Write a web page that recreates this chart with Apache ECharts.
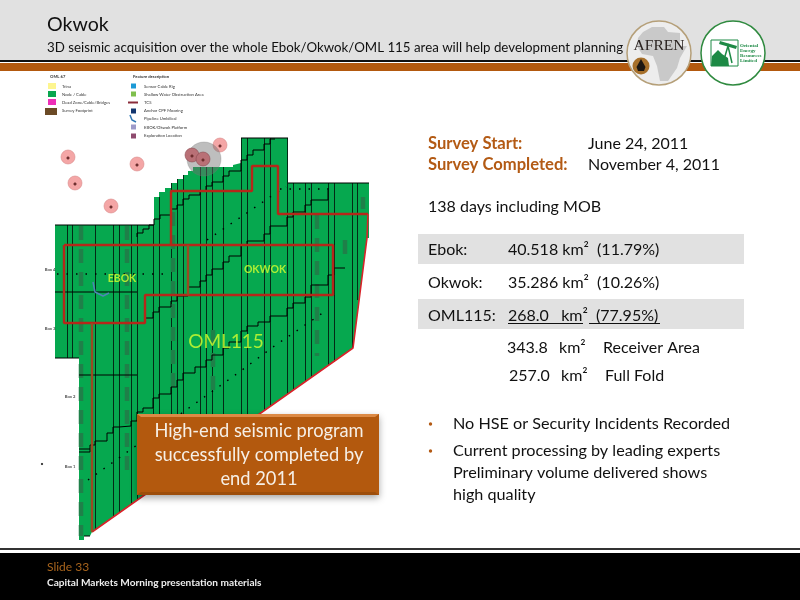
<!DOCTYPE html>
<html>
<head>
<meta charset="utf-8">
<style>html,body{margin:0;padding:0;background:#fff}#main{width:800px;height:600px}</style>
<script src="https://cdn.jsdelivr.net/npm/echarts@6/dist/echarts.min.js"></script>
</head>
<body>
<div id="main"></div>
<script>
// slide text
var titleText = 'Okwok';
var subtitleText = '3D seismic acquisition over the whole Ebok/Okwok/OML 115 area will help development planning';
var surveyLabels = ['Survey Start:', 'Survey Completed:'];
var surveyDates = ['June 24, 2011', 'November 4, 2011'];
var durationText = '138 days including MOB';
var areaNames = ['Ebok:', 'Okwok:', 'OML115:'];
var areaKm = ['40.518', '35.286', '268.0'];
var areaPct = ['11.79', '10.26', '77.95'];
var totalKm = ['343.8', '257.0'];
var totalNames = ['Receiver Area', 'Full Fold'];
var bulletLines = ['No HSE or Security Incidents Recorded', 'Current processing by leading experts', 'Preliminary volume delivered shows', 'high quality'];
var calloutLines = ['High-end seismic program', 'successfully completed by', 'end 2011'];
var legendLeft = ['OML 67', 'Trina', 'Node / Cable', 'Dead Zone/Cable/Bridges', 'Survey Footprint'];
var legendRight = ['Feature description', 'Sensor Cable Rig', 'Shallow Water Obstruction Area', 'TCS', 'Anchor CPF Mooring', 'Pipeline Umbilical', 'EBOK/Okwok Platform', 'Exploration Location'];

// map geometry, in survey map units
var surveyOutline = [[241,138],[288,138],[288,183],[369,183],[369,238],[367,238],[353,348],[92,532],[90,536],[84,536],[84,540],[79,540],[79,358],[55,358],[55,225],[154,225],[154,197],[159,197],[159,192],[165,192],[165,188],[171,188],[171,183],[177,183],[177,179],[183,179],[183,175],[188,175],[188,171],[193,171],[193,167],[233,167],[233,165],[241,163]];
var vertX = [67,72,95,113,119,131,137,153,159,171,177,183,200,206,212,223,241,247,264,270,287,293,305,311,328,334,352,357];
var vertTop = [225,225,225,225,225,225,225,225,197,183,179,175,167,167,167,167,138,138,138,138,138,183,183,183,183,183,183,183];
var vertBottom = [358,358,530,517,513,505,500,489,485,476,472,468,456,452,447,440,427,423,411,406,394,390,382,378,366,362,349,300];
var horizLines = [[[55,225],[154,225]],[[241,138],[288,138]],[[288,183],[369,183]],[[55,292],[137,292]],[[79,375],[137,375]],[[55,358],[79,358]],[[79,449],[90,449]],[[84,536],[90,536]]];
var stairA = [[137,237],[137,233],[143,233],[143,229],[149,229],[149,225],[154,225],[154,219],[160,219],[160,215],[171,215],[171,209],[177,209],[177,205],[183,205],[183,199],[189,199],[189,195],[200,195],[200,191],[206,191],[206,186],[212,186],[212,182],[223,182],[223,176],[229,176],[229,171],[241,171],[241,160],[247,160],[247,155],[253,155],[253,150],[264,150],[264,144],[270,144],[270,139],[275,139]];
var stairB = [[145,322],[145,318],[153,318],[153,312],[159,312],[159,307],[171,307],[171,301],[177,301],[177,296],[188,296],[188,287],[200,287],[200,281],[206,281],[206,275],[212,275],[212,269],[223,269],[223,262],[229,262],[229,256],[241,256],[241,245],[247,245],[247,241],[264,241],[264,234],[270,234],[270,226],[287,226],[287,217],[293,217],[293,212],[305,212],[305,205],[311,205],[311,200],[328,200],[328,188]];
var stairC = [[79,452],[90,452],[90,445],[95,445],[95,441],[107,441],[107,433],[113,433],[113,427],[119,427],[119,426],[131,426],[131,421],[137,421],[137,412],[143,412],[143,408],[153,408],[153,398],[159,398],[159,394],[171,394],[171,387],[177,387],[177,380],[183,380],[183,373],[195,373],[195,367],[206,367],[206,360],[212,360],[212,355],[223,355],[223,348],[229,348],[229,342],[241,342],[241,331],[247,331],[247,326],[258,326],[258,322],[270,322],[270,316],[287,316],[287,308],[293,308],[293,303],[305,303],[305,297],[311,297],[311,285],[328,285],[328,275],[334,275],[334,268],[345,268]];
var dotLines = [[[88,480],[238,373],[273,347],[327,310]],[[207,240],[238,219],[273,195],[286,187]],[[57,274],[170,274]],[[280,189],[328,189]]];
var hatchLines = [[[81,226],[81,536]],[[127,226],[127,478]],[[173,212],[173,392]],[[345,240],[345,256]],[[363,197],[363,209]],[[317,215],[317,356]],[[213,330],[213,398]]];
var boxEbok = [[64,245],[333,245],[333,295],[145,295],[145,323],[64,323],[64,245]];
var boxDivider = [[188,245],[188,295]];
var boxOkwok = [[171,245],[171,191],[252,191],[252,166],[278,166],[278,214],[368,214]];
var boxEdge = [[368,214],[367,238],[353,348],[92,532]];
var boxStem = [[92,323],[92,532]];
var wellPoints = [[68,157],[75,183],[111,206],[137,164],[220,145]];
var wellMarks = [[68,158],[75,184],[111,207],[137,165],[220,146],[192,156],[203,160]];
var platformPoints = [[192,155],[203,159]];
var buoyPoints = [[204,159]];
var fieldNames = ['EBOK', 'OKWOK', 'OML115'];
var fieldPoints = [[122,279],[265,270],[226,342]];
var blockNames = ['Box 4', 'Box 3', 'Box 2', 'Box 1'];
var blockPoints = [[50,270],[50,329],[70,397],[70,467]];
var strayPoints = [[42,464]];
var cablePath = [[93,282],[95,292],[103,296],[109,293]];

var FONT = 'Lato, "Noto Sans", sans-serif';

function txt(str, x, y, size, color, weight, align, family) {
	return {
		type: 'text',
		z: 5,
		style: {
			text: str, x: x, y: y, fill: color || '#111',
			font: (weight || 'normal') + ' ' + size + 'px ' + (family || FONT),
			textAlign: align || 'left', textVerticalAlign: 'middle'
		}
	};
}
function box(x, y, w, h, fill, z) {
	return { type: 'rect', z: z || 1, shape: { x: x, y: y, width: w, height: h }, style: { fill: fill } };
}
function pathLine(pts, color, width, dash) {
	return {
		type: 'line', data: pts, showSymbol: false, silent: true, animation: false, z: 3,
		lineStyle: { color: color, width: width, type: dash || 'solid', cap: 'butt' }
	};
}
function dots(pts, size, fill, stroke, z) {
	return {
		type: 'scatter', data: pts, symbolSize: size, silent: true, animation: false, z: z || 5,
		itemStyle: { color: fill, borderColor: stroke, borderWidth: 0.6, opacity: 1 }
	};
}
function nameLabels(pts, names, size, color, weight) {
	return {
		type: 'scatter', symbolSize: 0, silent: true, animation: false, z: 6,
		data: pts.map(function (p, i) { return { value: p, name: names[i] }; }),
		label: { show: true, position: 'inside', formatter: '{b}', color: color, fontSize: size, fontFamily: FONT, fontWeight: weight || 'normal' }
	};
}

var graphics = [
	box(0, 0, 800, 60, '#e1e1e1'),
	box(0, 60, 800, 2, '#111'),
	box(0, 63, 800, 8, '#b3590e'),
	box(0, 548, 800, 2, '#333'),
	box(0, 553, 800, 47, '#000'),
	txt(titleText, 47, 25, 19.6),
	txt(subtitleText, 47, 48, 13.3, '#111'),
	txt('Slide 33', 47, 567, 12, '#a8641c'),
	txt('Capital Markets Morning presentation materials', 47, 583, 10.1, '#eee', 'bold'),
	box(418, 234, 326, 30, '#e1e1e1'),
	box(418, 299, 326, 30, '#e1e1e1')
];
surveyLabels.forEach(function (s, i) {
	graphics.push(txt(s, 428, 144 + i * 21, 16.6, '#b35a14', 'bold'));
	graphics.push(txt(surveyDates[i], 588, 144 + i * 21, 16));
});
graphics.push(txt(durationText, 428, 207, 16));
areaNames.forEach(function (s, i) {
	var y = 250 + i * 32.7;
	graphics.push(txt(s, 428, y, 16));
	graphics.push(txt(areaKm[i] + (i == 2 ? '   ' : ' ') + 'km\u00b2  (' + areaPct[i] + '%)', 508, y, 16));
});
graphics.push({ type: 'line', z: 5, shape: { x1: 508, y1: 323.5, x2: 583, y2: 323.5 }, style: { stroke: '#111', lineWidth: 1 } });
graphics.push({ type: 'line', z: 5, shape: { x1: 589, y1: 323.5, x2: 660, y2: 323.5 }, style: { stroke: '#111', lineWidth: 1 } });
totalKm.forEach(function (s, i) {
	var y = 348 + i * 27.5;
	graphics.push(txt(s, 507 + i * 2, y, 16));
	graphics.push(txt('km\u00b2', 559 + i * 2, y, 16));
	graphics.push(txt(totalNames[i], 603 + i * 2, y, 16));
});
[424, 451].forEach(function (y) {
	graphics.push({ type: 'circle', z: 5, shape: { cx: 430.5, cy: y, r: 1.7 }, style: { fill: '#b35a14' } });
});
[424, 451, 473, 495].forEach(function (y, i) {
	graphics.push(txt(bulletLines[i], 453, y, 16.2));
});

// callout box, on top of the map
graphics.push({
	type: 'rect', z: 20, shape: { x: 137, y: 414, width: 242, height: 81 },
	style: { fill: '#b3590e', shadowBlur: 7, shadowOffsetY: 3, shadowColor: 'rgba(0,0,0,0.35)' }
});
graphics.push({
	type: 'polygon', z: 21, shape: { points: [[137,414],[379,414],[375,417],[141,417]] },
	style: { fill: '#dc8a45' }
});
graphics.push({
	type: 'polygon', z: 21, shape: { points: [[137,495],[379,495],[375,492],[141,492]] },
	style: { fill: '#9d4e0c' }
});
calloutLines.forEach(function (s, i) {
	var t = txt(s, 259, 431 + i * 24, 18.3, '#f6efe6', 'normal', 'center');
	t.z = 22;
	graphics.push(t);
});

// legend, very small as in the slide
[[52,86,'#fdf58f'],[52,94,'#0aa64f'],[52,102,'#ee2fb8']].forEach(function (s) {
	graphics.push(box(s[0] - 4, s[1] - 3, 8, 6, s[2], 5));
});
graphics.push(box(45, 108, 12, 7, '#6b4a26', 5));
[[133,86,'#1c9ad6'],[133,94,'#7fbf4d'],[133,111,'#12356e'],[133,127,'#9c9ac9'],[133,136,'#8e4a6e']].forEach(function (s) {
	graphics.push(box(s[0] - 2, s[1] - 2.5, 5, 5, s[2], 5));
});
graphics.push(box(128, 101.5, 10, 2, '#8a2c3a', 5));
graphics.push({ type: 'polyline', z: 5, shape: { points: [[130,115],[132,120],[136,122]] }, style: { stroke: '#2f77b5', lineWidth: 1.5, fill: null } });
legendLeft.forEach(function (s, i) {
	var y = i == 0 ? 77 : 78 + i * 8.2;
	graphics.push(txt(s, i == 0 ? 50 : 62, y, 4.2, '#333', i == 0 ? 'bold' : 'normal'));
});
legendRight.forEach(function (s, i) {
	var y = i == 0 ? 77 : 78 + i * 8.2;
	graphics.push(txt(s, i == 0 ? 133 : 144, y, 4.2, '#333', i == 0 ? 'bold' : 'normal'));
});

// AFREN logo
graphics.push({ type: 'circle', z: 6, shape: { cx: 659, cy: 53, r: 32 }, style: { fill: '#ededed', stroke: '#b59f78', lineWidth: 1.5 } });
graphics.push({ type: 'polygon', z: 7, shape: { points: [[643,32],[652,27],[664,27],[668,32],[680,33],[680,46],[687,46],[680,58],[677,68],[668,81],[660,81],[657,66],[653,56],[642,54],[637,46],[638,38]] }, style: { fill: '#c9c9c9' } });
graphics.push(txt('AFREN', 659, 46, 15.5, '#2a2320', 'normal', 'center', '"Liberation Serif", serif'));
graphics[graphics.length - 1].z = 8;
graphics.push({ type: 'circle', z: 8, shape: { cx: 641, cy: 66, r: 8.5 }, style: { fill: '#a7702b' } });
graphics.push({ type: 'polygon', z: 9, shape: { points: [[641,59],[645.5,67],[644,71],[638,71],[636.5,67]] }, style: { fill: '#1d1712' } });

// Oriental Energy logo
graphics.push({ type: 'circle', z: 6, shape: { cx: 733, cy: 53, r: 32 }, style: { fill: '#fff', stroke: '#2f8a3f', lineWidth: 1.5 } });
graphics.push({ type: 'rect', z: 7, shape: { x: 711, y: 40, width: 27, height: 26 }, style: { fill: 'none', stroke: '#1d8a45', lineWidth: 1 } });
graphics.push({ type: 'polygon', z: 8, shape: { points: [[711,66],[712,56],[718,50],[722,54],[728,58],[729,66]] }, style: { fill: '#1d8a45' } });
graphics.push({ type: 'polygon', z: 8, shape: { points: [[720,41],[737,46],[736,49],[719,44]] }, style: { fill: '#1d8a45' } });
graphics.push({ type: 'polyline', z: 8, shape: { points: [[723,63],[728,46],[732,63]] }, style: { stroke: '#1d8a45', lineWidth: 1.5, fill: null } });
['Oriental', 'Energy', 'Resources', 'Limited'].forEach(function (s, i) {
	var t = txt(s, 740, 46 + i * 5, 5, '#1d8a45', 'bold', 'left', '"Liberation Serif", serif');
	t.z = 8;
	graphics.push(t);
});

var series = [
	{
		type: 'custom', silent: true, animation: false, z: 2, data: [0],
		renderItem: function (params, api) {
			return {
				type: 'polygon',
				shape: { points: surveyOutline.map(function (p) { return api.coord(p); }) },
				style: { fill: '#06a84f' }
			};
		}
	},
	{
		type: 'custom', silent: true, animation: false, z: 3,
		data: vertX.map(function (x, i) { return [x, vertTop[i], vertBottom[i]]; }),
		encode: { x: 0, y: [1, 2] },
		renderItem: function (params, api) {
			var a = api.coord([api.value(0), api.value(1)]);
			var b = api.coord([api.value(0), api.value(2)]);
			return {
				type: 'line', shape: { x1: a[0] + 0.5, y1: a[1], x2: b[0] + 0.5, y2: b[1] },
				style: { stroke: '#032a16', lineWidth: 1 }
			};
		}
	}
];
hatchLines.forEach(function (l) { series.push(pathLine(l, '#1f8049', 4.5, [14, 9])); });
horizLines.forEach(function (l) { series.push(pathLine(l, '#000', 1)); });
[stairA, stairB, stairC].forEach(function (l) { series.push(pathLine(l, '#000', 1)); });
dotLines.forEach(function (l) { series.push(pathLine(l, '#000', 1.4, [1.5, 8])); });
series.push(pathLine(cablePath, '#4d86b5', 1.5));
series.push(pathLine(boxEbok, '#b5281a', 2.4));
series.push(pathLine(boxDivider, '#9a4a22', 2.4));
series.push(pathLine(boxOkwok, '#b5281a', 2.4));
series.push(pathLine(boxEdge, '#d8232a', 1.6));
series.push(pathLine(boxStem, '#9a4a22', 2.4));
series.push(dots(wellPoints, 14, '#f4a6a6', '#d88a8a'));
series.push(dots(buoyPoints, 34, 'rgba(110,110,110,0.45)', 'rgba(120,120,120,0.5)', 5));
series.push(dots(platformPoints, 14, '#b97076', '#8a4a50', 6));
series.push(dots(wellMarks, 2.5, '#6e2f2f', '#6e2f2f', 7));
series.push(dots(strayPoints, 1.5, '#000', '#000', 7));
series.push(nameLabels(fieldPoints.slice(0, 2), fieldNames.slice(0, 2), 10.5, '#d6ff2e', 'bold'));
series.push(nameLabels(fieldPoints.slice(2), fieldNames.slice(2), 19, '#d6ff2e'));
series.push(nameLabels(blockPoints, blockNames, 4.2, '#222', 'bold'));

var chart = echarts.init(document.getElementById('main'), null, { renderer: 'canvas' });
chart.setOption({
	animation: false,
	backgroundColor: '#fff',
	grid: { left: 0, right: 0, top: 0, bottom: 0 },
	xAxis: { type: 'value', min: 0, max: 800, show: false },
	yAxis: { type: 'value', min: 0, max: 600, inverse: true, show: false },
	graphic: { elements: graphics },
	series: series
});
</script>
</body>
</html>
